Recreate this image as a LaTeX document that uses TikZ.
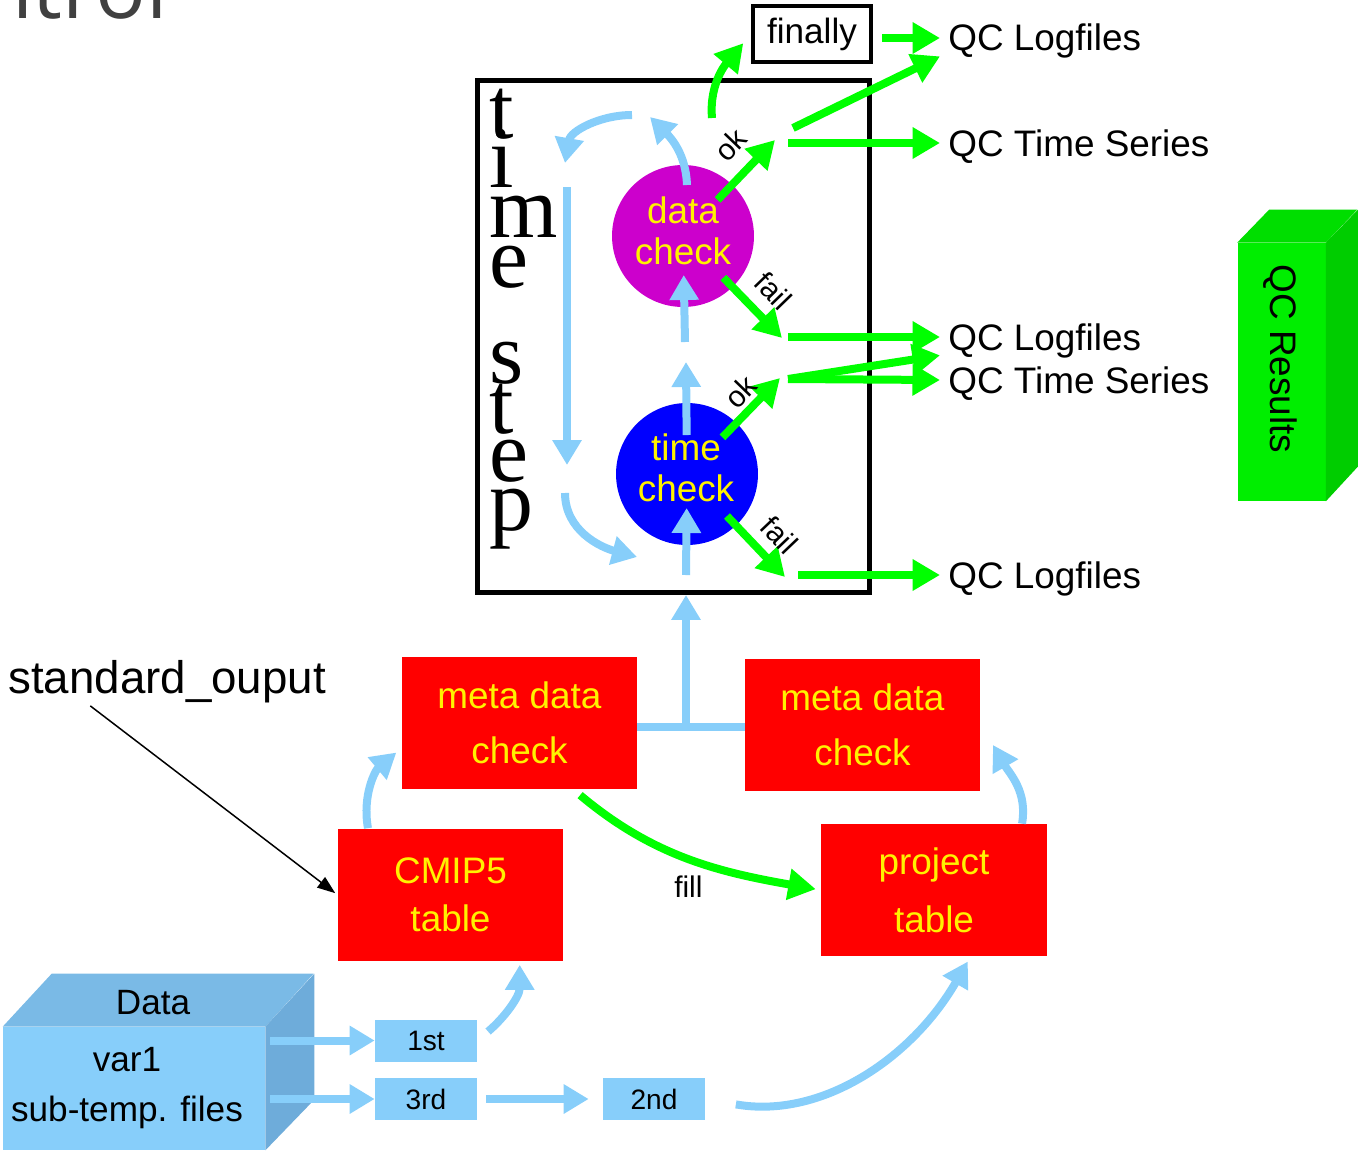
\documentclass[tikz,border=0pt]{standalone}
\usepackage{fontspec}
\setmainfont{Liberation Sans}
\newfontfamily\stepfont{Liberation Serif}
\newfontfamily\titlefont{Open Sans}
\usepackage{tikz}
\usetikzlibrary{arrows.meta,calc}
\definecolor{flowblue}{RGB}{135,206,250}
\definecolor{okgreen}{RGB}{0,255,0}
\definecolor{dcmagenta}{RGB}{204,0,204}
\definecolor{tcblue}{RGB}{0,0,255}
\definecolor{tabred}{RGB}{255,0,0}
\definecolor{cubetop}{RGB}{122,186,230}
\definecolor{cubeside}{RGB}{110,172,218}
\definecolor{resfront}{RGB}{0,238,0}
\definecolor{restop}{RGB}{0,222,0}
\definecolor{resside}{RGB}{0,205,0}
\definecolor{titlegray}{RGB}{64,64,64}

\begin{document}
\begin{tikzpicture}[x=0.02cm,y=0.02cm,
  flow/.style={flowblue,line width=0.16cm,-{Triangle[length=0.5cm,width=0.56cm]}},
  result/.style={okgreen,line width=0.16cm,-{Triangle[length=0.55cm,width=0.6cm]}},
  checkcircle/.style={circle,minimum size=2.84cm,inner sep=0pt},
  checktext/.style={text=yellow,align=center,inner sep=0pt,font=\fontsize{21}{23.5}\selectfont},
  tablebox/.style={fill=tabred,text=yellow,align=center,font=\fontsize{21}{31}\selectfont},
  partbox/.style={fill=flowblue,minimum width=2.04cm,minimum height=0.84cm,font=\fontsize{16}{18}\selectfont},
  qclabel/.style={anchor=west,inner xsep=0.16cm,inner ysep=0.1cm,text height=0.52cm,text depth=0pt,font=\fontsize{21}{24}\selectfont},
  edgelabel/.style={black,inner sep=1pt,font=\fontsize{17}{18}\selectfont}]
  \useasboundingbox (0,0) rectangle (1360,-1153);
  % slide title, cut off at the top
  \node[anchor=base east,inner sep=0pt,text=titlegray,font=\titlefont\fontsize{48}{50}\selectfont] (title) at (168,-18) {ntrol};
  % time step frame
  \node[draw,line width=0.1cm,minimum width=7.84cm,minimum height=10.24cm] (tsbox) at (673.5,-336.5) {};
  \foreach \letter/\y [count=\i] in {t/138,i/187,m/237,e/287,s/383,t/433,e/481,p/530}
    \node[anchor=base west,inner sep=0pt,font=\stepfont\fontsize{50}{50}\selectfont] (ts\i) at (489,-\y) {\letter};
  \node[checkcircle,fill=dcmagenta] (dcheck) at (683,-236) {};
  \node[checktext] (dchecktext) at (683,-231) {data\\check};
  \node[checkcircle,fill=tcblue] (tcheck) at (687,-474) {};
  \node[checktext] (tchecktext) at (686,-468) {time\\check};
  % outputs
  \node[draw,line width=0.08cm,minimum width=2.36cm,minimum height=1.12cm,font=\fontsize{20}{22}\selectfont] (fin) at (812,-34) {finally};
  \node[qclabel] (qclog1) at (940,-38) {QC Logfiles};
  \node[qclabel] (qcts1) at (940,-143) {QC Time Series};
  \node[qclabel] (qclog2) at (940,-337) {QC Logfiles};
  \node[qclabel] (qcts2) at (940,-380) {QC Time Series};
  \node[qclabel] (qclog3) at (940,-575) {QC Logfiles};
  % QC results block
  \node[fill=resfront,minimum width=1.76cm,minimum height=5.16cm,inner sep=0pt] (qcres) at (1281.5,-372) {};
  \fill[restop] (qcres.north west) -- ++(32,33) -- ++(88,0) -- (qcres.north east) -- cycle;
  \fill[resside] (qcres.north east) -- ++(32,33) -- ++(0,-257) -- (qcres.south east) -- cycle;
  \node[rotate=-90,font=\fontsize{21}{24}\selectfont] (qcrestext) at (1280,-359) {QC Results};
  % tables
  \node[tablebox,minimum width=4.7cm,minimum height=2.64cm] (mleft) at (519.5,-723) {meta data\\check};
  \node[tablebox,minimum width=4.7cm,minimum height=2.64cm] (mright) at (862.5,-725) {meta data\\check};
  \node[tablebox,minimum width=4.5cm,minimum height=2.66cm] (cmip) at (450.5,-895) {CMIP5\\[-4pt]table};
  \node[tablebox,minimum width=4.52cm,minimum height=2.64cm] (proj) at (934,-890) {project\\[2pt]table};
  \node[anchor=base west,inner sep=0pt,font=\fontsize{26}{28}\selectfont] (stdout) at (8,-693) {standard\_ouput};
  % data cube
  \node[fill=flowblue,minimum width=5.24cm,minimum height=2.46cm,inner sep=0pt] (datafront) at (134,-1088.5) {};
  \fill[cubetop] (datafront.north west) -- ++(49,53) -- ++(262,0) -- (datafront.north east) -- cycle;
  \fill[cubeside] (datafront.north east) -- ++(49,53) -- ++(0,-126) -- (datafront.south east) -- cycle;
  \node[font=\fontsize{20}{22}\selectfont] (datatop) at (153,-1003) {Data};
  \node[align=center,inner sep=0pt,font=\fontsize{20}{28.5}\selectfont] (datatext) at (127,-1088) {var1\\sub-temp. files};
  \node[partbox] (first) at (426,-1040.5) {1st};
  \node[partbox] (third) at (426,-1099) {3rd};
  \node[partbox] (second) at (654,-1099) {2nd};
  % free ends
  \coordinate (tbot) at (686,-575);
  \coordinate (tmid) at (686,-362);
  \coordinate (dmid) at (685,-342);
  \coordinate (dtop) at (687,-185);
  \coordinate (loopa) at (650,-117);
  \coordinate (loopb) at (632,-115);
  \coordinate (loopc) at (565,-163);
  \coordinate (downa) at (567,-187);
  \coordinate (downb) at (567,-465);
  \coordinate (loopd) at (565,-493);
  \coordinate (loope) at (637,-557);
  \coordinate (junc) at (686,-727);
  \coordinate (mrtip) at (993,-745);
  \coordinate (dtopg) at (712,-118);
  \coordinate (dok) at (775,-140);
  \coordinate (dokd) at (793,-128);
  \coordinate (dokh) at (788,-143);
  \coordinate (dfail) at (782,-338);
  \coordinate (dfailh) at (788,-337);
  \coordinate (tok) at (780,-378);
  \coordinate (tokh) at (788,-379);
  \coordinate (tfail) at (785,-577);
  \coordinate (tfailh) at (798,-575);
  % time step loop
  \draw[flow,shorten >=0.68cm] (tbot) -- (tcheck.center);
  \draw[flow,shorten <=0.78cm] (tcheck.center) -- (tmid);
  \draw[flow,shorten >=0.78cm] (dmid) -- (dcheck.center);
  \draw[flow] (dtop) to[out=92,in=-45] (loopa);
  \draw[flow] (loopb) to[out=180,in=80] (loopc);
  \draw[flow] (downa) -- (downb);
  \draw[flow] (loopd) to[out=-90,in=165] (loope);
  % checks -> results
  \draw[result,shorten <=1cm] (dcheck.center) -- (dok) node[edgelabel,sloped,pos=0.74,above=0.24cm] {ok};
  \draw[result,shorten <=1.16cm] (dcheck.center) -- (dfail) node[edgelabel,sloped,pos=0.72,above=0.2cm] {fail};
  \draw[result,shorten <=1.02cm] (tcheck.center) -- (tok) node[edgelabel,sloped,pos=0.72,above=1pt] {ok};
  \draw[result,shorten <=1.16cm] (tcheck.center) -- (tfail) node[edgelabel,sloped,pos=0.76,above=0.16cm] {fail};
  \draw[result,shorten >=0.24cm] (dtopg) to[out=95,in=-130] (fin.west);
  \draw[result,shorten <=0.18cm] (fin.east |- qclog1.west) -- (qclog1.west);
  \draw[result] (dokd) -- (qclog1.south west);
  \draw[result] (dokh) -- (qcts1.west);
  \draw[result] (dfailh) -- (qclog2.west);
  \draw[result] (tokh) -- (qclog2.south west);
  \draw[result] (tokh) -- (qcts2.west);
  \draw[result] (tfailh) -- (qclog3.west);
  % tables -> time step
  \draw[flowblue,line width=0.16cm] (mleft.east |- junc) -- (mright.west |- junc);
  \draw[flow] (junc) -- (junc |- tsbox.south);
  \draw[flow,shorten >=0.14cm] (cmip.141) to[out=100,in=-140] (mleft.192);
  \draw[flow] (proj.37) to[out=80,in=-60] (mrtip);
  \draw[result,shorten <=0.18cm,shorten >=0.1cm] (mleft.-51) to[out=-40,in=170] node[edgelabel,midway,below=0.24cm] {fill} (proj.west);
  \draw[black,line width=0.03cm,-{Triangle[length=0.36cm,width=0.26cm]},shorten <=0.1cm,shorten >=0.06cm] (stdout.-165) -- (cmip.west);
  % data -> tables
  \draw[flow,shorten <=0.1cm] (datafront.east |- first.west) -- (first.west);
  \draw[flow,shorten <=0.1cm] (datafront.east |- third.west) -- (third.west);
  \draw[flow,shorten <=0.18cm,shorten >=0.28cm] (third.east) -- (second.west);
  \draw[flow,shorten <=0.28cm,shorten >=0.06cm] (first.east) to[out=40,in=-90] (cmip.-44);
  \draw[flow,shorten <=0.62cm,shorten >=0.12cm] (second.east) to[out=-10,in=-120] (proj.-61);
\end{tikzpicture}
\end{document}
